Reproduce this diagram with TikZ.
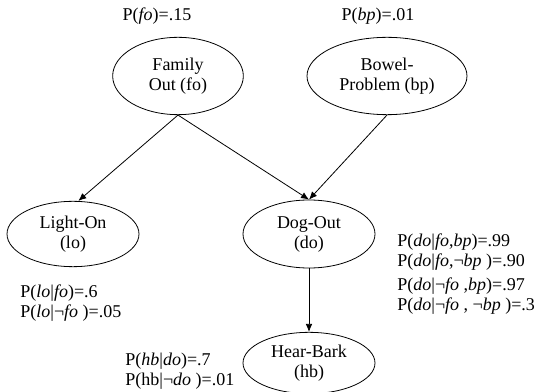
\documentclass[tikz,border=0pt]{standalone}
\usepackage{fontspec}
\setmainfont{Liberation Serif}
\usetikzlibrary{shapes.geometric}
\usetikzlibrary{arrows.meta}

\begin{document}
\begin{tikzpicture}[x=0.75pt,y=-0.75pt,line width=0.6pt,
    var/.style={draw,ellipse,inner sep=0pt,align=center,font=\fontsize{13.5}{15}\selectfont},
    prob/.style={inner sep=0pt,align=left,font=\fontsize{13.5}{15}\selectfont},
    edge/.style={-{Latex[length=6pt,width=5pt]}}]
    \useasboundingbox (0,0) rectangle (537,392);

    % variables
    \node[var,minimum width=98pt,minimum height=58pt] (fo) at (178,76) {Family\\Out (fo)};
    \node[var,minimum width=120pt,minimum height=58pt] (bp) at (387,76) {Bowel-\\Problem (bp)};
    \node[var,minimum width=99pt,minimum height=49pt] (lo) at (73,234) {Light-On\\(lo)};
    \node[var,minimum width=99pt,minimum height=51pt] (do) at (309,234) {Dog-Out\\(do)};
    \node[var,minimum width=99pt,minimum height=46pt] (hb) at (309,363) {Hear-Bark\\(hb)};

    % links
    \draw[edge] (fo.south) -- ([xshift=4pt]lo.north);
    \draw[edge] (fo.south) -- (do.north);
    \draw[edge] (bp.south) -- (do.north);
    \draw[edge] (do.south) -- (hb.north);

    % probabilities
    \node[prob] (pfo) at (157,16) {P(\textit{fo})=.15};
    \node[prob] (pbp) at (378,16) {P(\textit{bp})=.01};
    \node[prob,anchor=west] (plo) at (20,303) {P(\textit{lo}|\textit{fo})=.6\\P(\textit{lo}|¬\textit{fo} )=.05};
    \node[prob,anchor=west] (phb) at (125,371) {P(\textit{hb}|\textit{do})=.7\\P(hb|¬\textit{do} )=.01};
    \node[prob,anchor=west] (pdo) at (397,274) {P(\textit{do}|\textit{fo},\textit{bp})=.99\\P(\textit{do}|\textit{fo},¬\textit{bp} )=.90\\[3pt]P(\textit{do}|¬\textit{fo} ,\textit{bp})=.97\\P(\textit{do}|¬\textit{fo} , ¬\textit{bp} )=.3};
\end{tikzpicture}
\end{document}
